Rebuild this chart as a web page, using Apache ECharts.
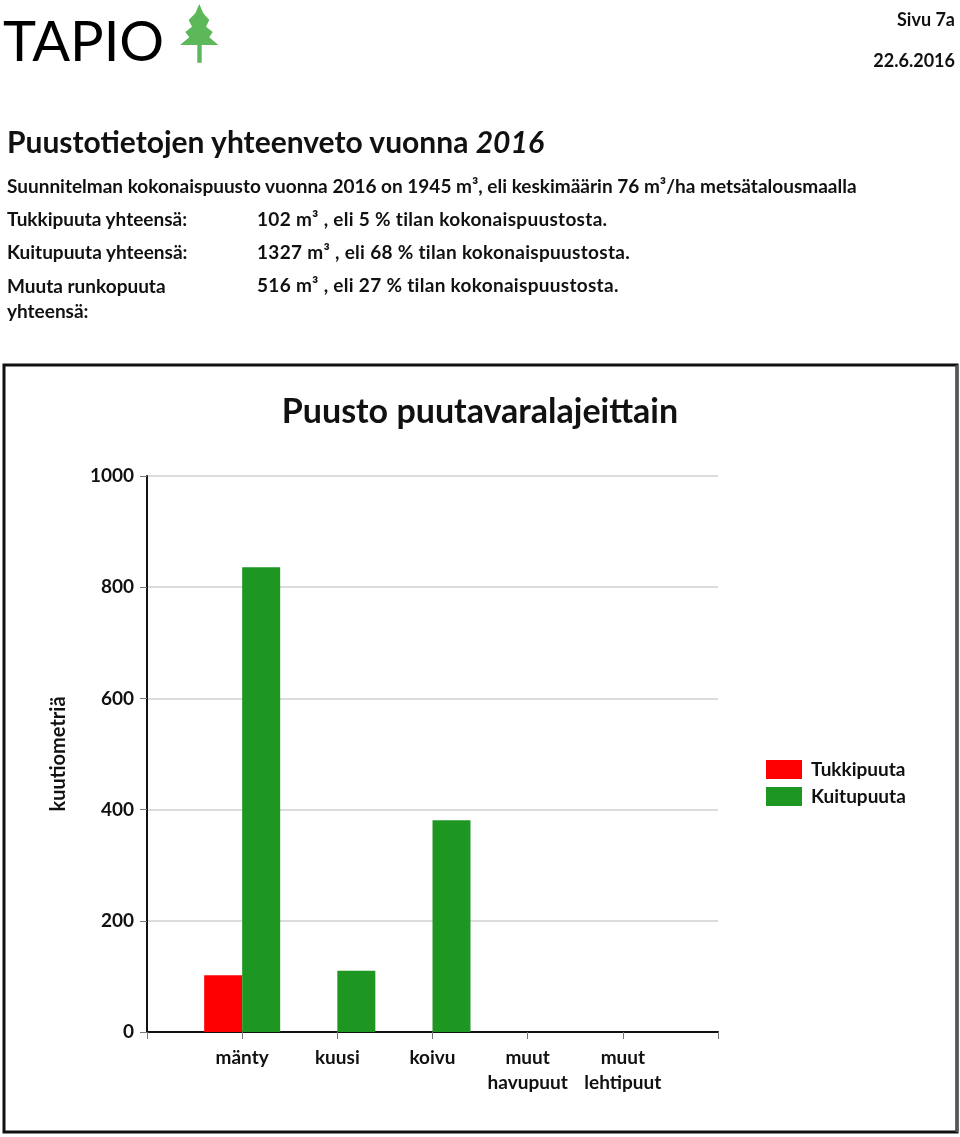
<!DOCTYPE html>
<html>
<head>
<meta charset="utf-8">
<script src="https://cdn.jsdelivr.net/npm/echarts@6/dist/echarts.min.js"></script>
<style>
  html, body { margin: 0; padding: 0; background: #fff; }
  body { width: 960px; height: 1137px; position: relative; overflow: hidden; font-family: Lato, "Open Sans", sans-serif; color: #111; }
  #chart { position: absolute; left: 0; top: 0; width: 960px; height: 1137px; }
  .t { position: absolute; white-space: nowrap; font-weight: 700; }
  #logo { position: absolute; left: 3px; top: 8px; font-family: Lato, sans-serif; font-weight: 400; font-size: 56px; line-height: 64px; color: #000; letter-spacing: 0px; }
</style>
</head>
<body>
<div id="chart"></div>
<div id="logo">TAPIO</div>
<svg style="position:absolute;left:0;top:0" width="240" height="70">
  <polygon fill="#5db85a" points="199.3,4 203.3,13.3 209.3,20 206,26.7 212.7,32 209.3,37.3 218.3,45 201.7,45 201.7,62.7 197.3,62.7 197.3,45 180,45 189.3,37.3 185.3,32 192,26.7 188.7,20 195.3,13.3"/>
</svg>
<div class="t" style="right:5px;top:8px;font-size:18px;line-height:22px;">Sivu 7a</div>
<div class="t" style="right:5px;top:49px;font-size:18px;line-height:22px;">22.6.2016</div>
<div class="t" style="left:7px;top:123px;font-size:30px;line-height:36px;">Puustotietojen yhteenveto vuonna <i>2016</i></div>
<div class="t" id="sum" style="left:7px;top:174px;font-size:19px;line-height:24px;"></div>
<div class="t" id="l1" style="left:7px;top:207px;font-size:19px;line-height:24px;"></div>
<div class="t" id="v1" style="left:257px;top:207px;font-size:19px;line-height:24px;letter-spacing:0.3px;"></div>
<div class="t" id="l2" style="left:7px;top:240px;font-size:19px;line-height:24px;"></div>
<div class="t" id="v2" style="left:257px;top:240px;font-size:19px;line-height:24px;letter-spacing:0.3px;"></div>
<div class="t" id="l3" style="left:7px;top:273px;font-size:19px;line-height:25px;white-space:normal;width:200px;"></div>
<div class="t" id="v3" style="left:257px;top:273px;font-size:19px;line-height:24px;letter-spacing:0.3px;"></div>
<script>
// ---- data ----
const categories = ['', 'mänty', 'kuusi', 'koivu', 'muut\nhavupuut', 'muut\nlehtipuut', ''];
const seriesNames = ['Tukkipuuta', 'Kuitupuuta'];
const tukkiValues = ['-', 102, 0, 0, 0, 0, '-'];
const kuituValues = ['-', 836, 110, 381, 0, 0, '-'];
const yTicks = [0, 200, 400, 600, 800, 1000];
const summaryText = 'Suunnitelman kokonaispuusto vuonna 2016 on 1945 m³, eli keskimäärin 76 m³/ha metsätalousmaalla';
const rowLabels = ['Tukkipuuta yhteensä:', 'Kuitupuuta yhteensä:', 'Muuta runkopuuta yhteensä:'];
const rowValues = ['102 m³ , eli 5 % tilan kokonaispuustosta.', '1327 m³ , eli 68 % tilan kokonaispuustosta.', '516 m³ , eli 27 % tilan kokonaispuustosta.'];

document.getElementById('sum').textContent = summaryText;
['l1','l2','l3'].forEach((id, i) => document.getElementById(id).textContent = rowLabels[i]);
['v1','v2','v3'].forEach((id, i) => document.getElementById(id).textContent = rowValues[i]);

const FONT = 'Lato, "Open Sans", sans-serif';
const chart = echarts.init(document.getElementById('chart'));
chart.setOption({
  animation: false,
  title: {
    text: 'Puusto puutavaralajeittain',
    left: 'center', top: 390,
    textStyle: { fontFamily: FONT, fontWeight: 'bold', fontSize: 34, color: '#111' }
  },
  legend: {
    orient: 'vertical', left: 766, top: 760, padding: 0,
    itemWidth: 36, itemHeight: 19, itemGap: 8,
    icon: 'rect',
    data: seriesNames,
    textStyle: { fontFamily: FONT, fontWeight: 'bold', fontSize: 19, color: '#111', padding: [2, 0, 0, 4] }
  },
  grid: { left: 147, right: 242, top: 476, bottom: 105, containLabel: false },
  xAxis: {
    type: 'category',
    data: categories,
    boundaryGap: false,
    axisLine: { lineStyle: { color: '#111', width: 2 } },
    axisTick: { show: true, length: 7, lineStyle: { color: '#777', width: 1 } },
    axisLabel: { interval: 0, margin: 13, fontFamily: FONT, fontWeight: 'bold', fontSize: 19, lineHeight: 25, color: '#111' },
    splitLine: { show: false }
  },
  yAxis: {
    type: 'value', min: yTicks[0], max: yTicks[yTicks.length - 1], interval: 200,
    name: 'kuutiometriä', nameLocation: 'middle', nameRotate: 90, nameGap: 78,
    nameTextStyle: { fontFamily: FONT, fontWeight: 'bold', fontSize: 20, color: '#111' },
    axisLine: { show: true, lineStyle: { color: '#111', width: 2 } },
    axisTick: { show: true, length: 7, lineStyle: { color: '#777', width: 1 } },
    axisLabel: { margin: 13, fontFamily: FONT, fontWeight: 'bold', fontSize: 19, color: '#111', formatter: v => String(v) },
    splitLine: { show: true, lineStyle: { color: '#dcdcdc', width: 2 } }
  },
  series: [
    { name: seriesNames[0], type: 'bar', data: tukkiValues, barWidth: 38, barGap: '0%', itemStyle: { color: '#ff0000' } },
    { name: seriesNames[1], type: 'bar', data: kuituValues, barWidth: 38, barGap: '0%', itemStyle: { color: '#1e9622' } }
  ],
  graphic: [
    { type: 'rect', shape: { x: 4, y: 365, width: 953, height: 767 }, style: { fill: 'none', stroke: '#111', lineWidth: 3 }, silent: true, z: -1 },
    { type: 'line', shape: { x1: 957, y1: 365, x2: 957, y2: 1132 }, style: { stroke: '#555', lineWidth: 3 }, silent: true }
  ]
});
</script>
</body>
</html>
